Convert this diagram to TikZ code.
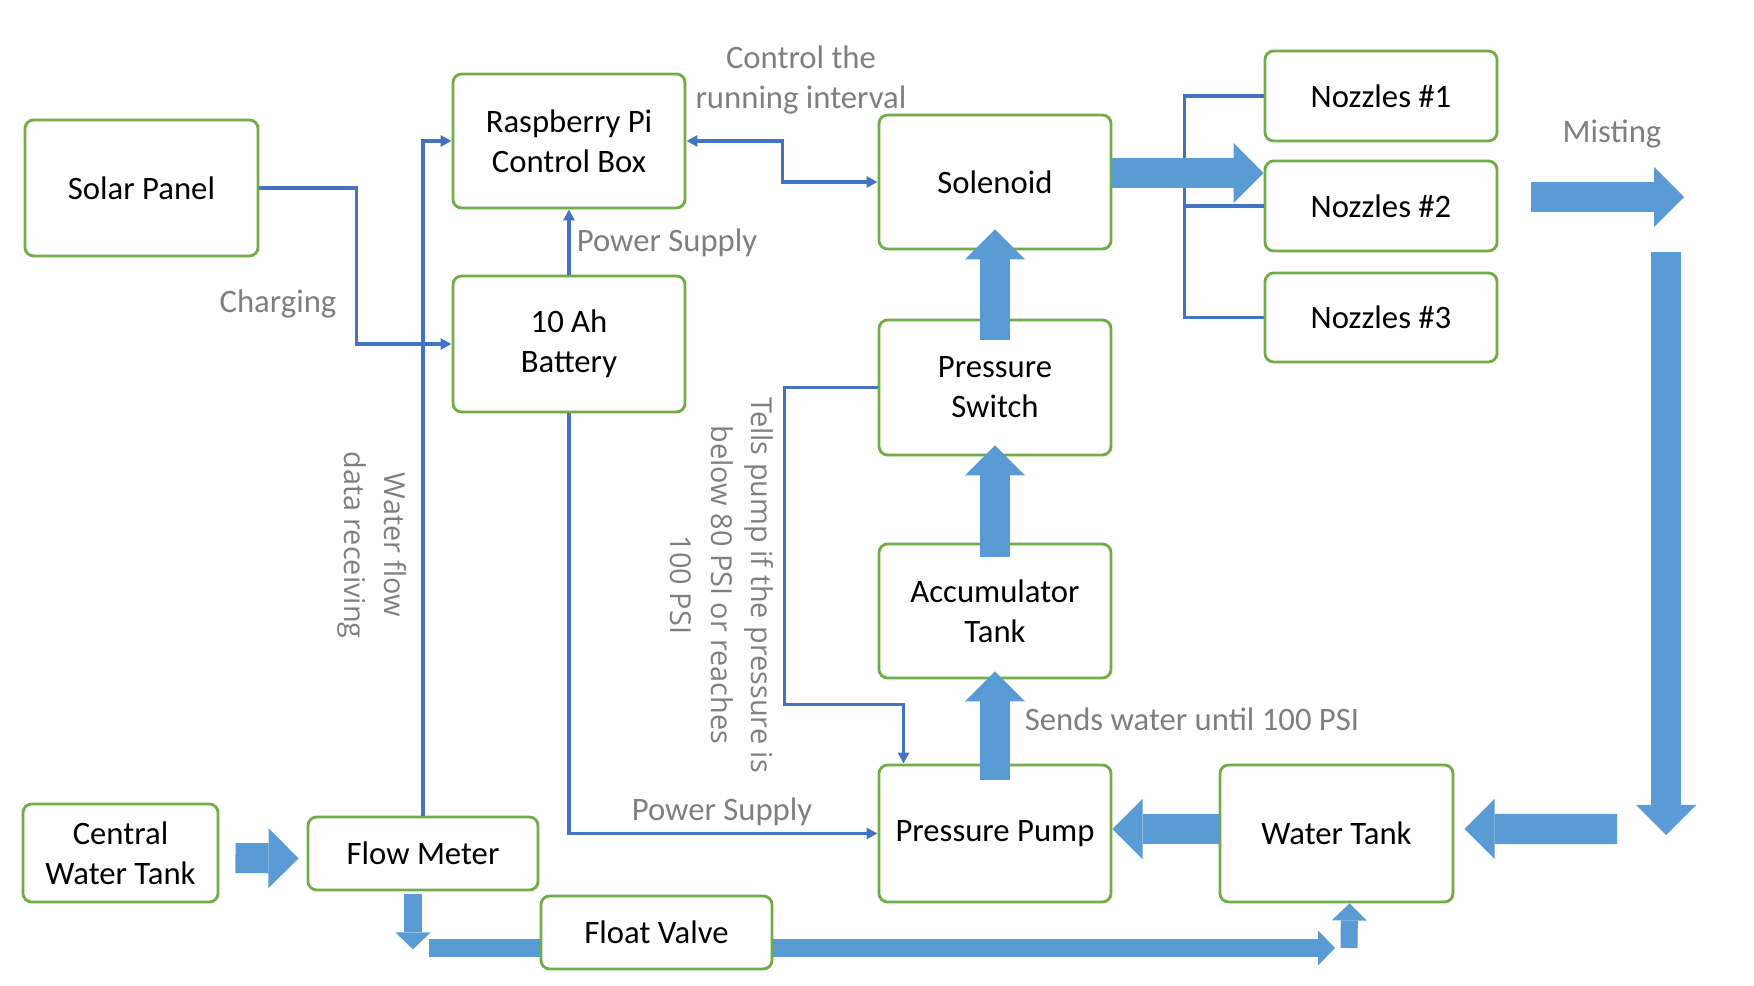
\documentclass[tikz,border=0pt]{standalone}
\usepackage{fontspec}
\setmainfont{Carlito}
\newfontfamily\sidefont{Open Sans}
\usetikzlibrary{arrows.meta}

\definecolor{boxgreen}{RGB}{112,173,71}
\definecolor{wireblue}{RGB}{68,114,196}
\definecolor{pipeblue}{RGB}{91,155,213}
\definecolor{notegray}{RGB}{127,127,127}

\tikzset{
    unit/.style={draw=boxgreen, line width=0.8pt, rounded corners=2.5pt, fill=white,
        align=center, inner sep=0pt, font=\fontsize{9.3}{11.3}\selectfont},
    wire/.style={draw=wireblue, line width=0.9pt},
    link/.style={wire, -{Triangle[length=1.1mm, width=1.1mm]}},
    duallink/.style={wire, {Triangle[length=1.1mm, width=1.1mm]}-{Triangle[length=1.1mm, width=1.1mm]}},
    pipe/.style={draw=pipeblue, line width=3mm, -{Triangle[length=3mm, width=6mm, line width=0pt]}},
    thinpipe/.style={draw=pipeblue, line width=1.7mm, -{Triangle[length=1.7mm, width=3.5mm, line width=0pt]}},
    note/.style={text=notegray, align=center, inner sep=0pt, font=\fontsize{9.3}{11.6}\selectfont},
    sidenote/.style={text=notegray, align=center, inner sep=0pt, rotate=-90,
        font=\sidefont\fontsize{8.2}{11.5}\selectfont}
}

\begin{document}
\begin{tikzpicture}[x=0.01cm, y=-0.01cm]

    % --- Canvas ---
    \useasboundingbox (0,0) rectangle (1754,986);

    % --- Water line under the float valve ---
    \coordinate (barA) at (429,948);
    \coordinate (barB) at (1335,948);
    \draw[thinpipe] (barA) -- (barB);

    % --- Units ---
    \node[unit, minimum width=2.33cm, minimum height=1.36cm] (solar) at (141.5,188) {Solar Panel};
    \node[unit, minimum width=2.32cm, minimum height=1.34cm] (rpi) at (569,141) {Raspberry Pi\\Control Box};
    \node[unit, minimum width=2.32cm, minimum height=1.36cm] (batt) at (569,344) {10 Ah\\Battery};
    \node[unit, minimum width=2.32cm, minimum height=1.34cm] (sol) at (995,182) {Solenoid};
    \node[unit, minimum width=2.32cm, minimum height=1.35cm] (psw) at (995,387.5) {Pressure\\Switch};
    \node[unit, minimum width=2.32cm, minimum height=1.34cm] (acc) at (995,611) {Accumulator\\Tank};
    \node[unit, minimum width=2.32cm, minimum height=1.37cm] (pump) at (995,833.5) {Pressure Pump};
    \node[unit, minimum width=2.33cm, minimum height=1.37cm] (wtank) at (1336.5,833.5) {Water Tank};

    % Nozzles on the right
    \node[unit, minimum width=2.32cm, minimum height=0.90cm] (noz1) at (1381,96) {Nozzles \#1};
    \node[unit, minimum width=2.32cm, minimum height=0.90cm] (noz2) at (1381,206) {Nozzles \#2};
    \node[unit, minimum width=2.32cm, minimum height=0.89cm] (noz3) at (1381,317.5) {Nozzles \#3};

    % Supply side at the bottom left
    \node[unit, minimum width=1.95cm, minimum height=0.98cm] (cwt) at (120.5,853) {Central\\Water Tank};
    \node[unit, minimum width=2.30cm, minimum height=0.73cm] (flow) at (423,853.5) {Flow Meter};
    \node[unit, minimum width=2.31cm, minimum height=0.73cm] (float) at (656.5,932.5) {Float Valve};

    % --- Control wires ---
    \draw[link] (solar.east) -- ++(97,0) |- (batt.west);
    \draw[link] (flow.north) |- (rpi.west);
    \draw[link] (batt.north) -- (rpi.south);
    \draw[duallink] (rpi.east) -- ++(96,0) |- (sol.west);
    \draw[link] (batt.south) |- (pump.west);
    \draw[link] (psw.west) -- ++(-93,0) |- ([xshift=0.26cm,yshift=0.59cm]pump.north west)
        -- ([xshift=0.26cm]pump.north west);

    % Manifold to the nozzles
    \draw[wire] (sol.east) -- ++(75,0);
    \draw[wire] (noz1.west) -- ++(-79,0) |- (noz3.west);
    \draw[wire] (noz2.west) -- ++(-79,0);

    % --- Water flow ---
    \draw[pipe] ([yshift=0.09cm]sol.east) -- ([yshift=0.09cm]sol.east -| noz2.west);
    \draw[pipe] ([yshift=-0.21cm]psw.north) -- ([yshift=0.21cm]sol.south);
    \draw[pipe] ([yshift=-0.14cm]acc.north) -- ([yshift=0.11cm]psw.south);
    \draw[pipe] ([yshift=-0.16cm]pump.north) -- ([yshift=0.08cm]acc.south);
    \draw[pipe] ([yshift=0.045cm]wtank.west) -- ([yshift=0.045cm]pump.east);
    \draw[pipe] ([xshift=0.16cm,yshift=-0.05cm]cwt.east) -- ([xshift=-0.08cm,yshift=-0.05cm]flow.west);
    \draw[thinpipe] ([xshift=-0.1cm,yshift=-0.03cm]flow.south) -- ++(0,55);
    \draw[thinpipe] (1349,948) -- ([xshift=0.13cm]wtank.south);

    % Misting and return loop
    \coordinate (mistA) at (1531,197);
    \coordinate (mistB) at (1684,197);
    \coordinate (dropA) at (1666,252);
    \coordinate (dropB) at (1666,835);
    \coordinate (backA) at (1617,829);
    \draw[pipe] (mistA) -- (mistB);
    \draw[pipe] (dropA) -- (dropB);
    \draw[pipe] (backA) -- ([xshift=0.1cm,yshift=0.045cm]wtank.east);

    % --- Labels ---
    \node[note] (ctrlnote) at (801,80) {Control the\\running interval};
    \node[note] (supplytop) at (667,243) {Power Supply};
    \node[note] (chargenote) at (278,304) {Charging};
    \node[note] (mistnote) at (1612,134) {Misting};
    \node[note] (sendsnote) at (1192,719) {Sends water until 100 PSI};
    \node[note] (supplybottom) at (722,812) {Power Supply};
    \node[sidenote] (flownote) at (372,545) {Water flow\\data receiving};
    \node[sidenote] (tellsnote) at (722,585) {Tells pump if the pressure is\\below 80 PSI or reaches\\100 PSI};

\end{tikzpicture}
\end{document}
